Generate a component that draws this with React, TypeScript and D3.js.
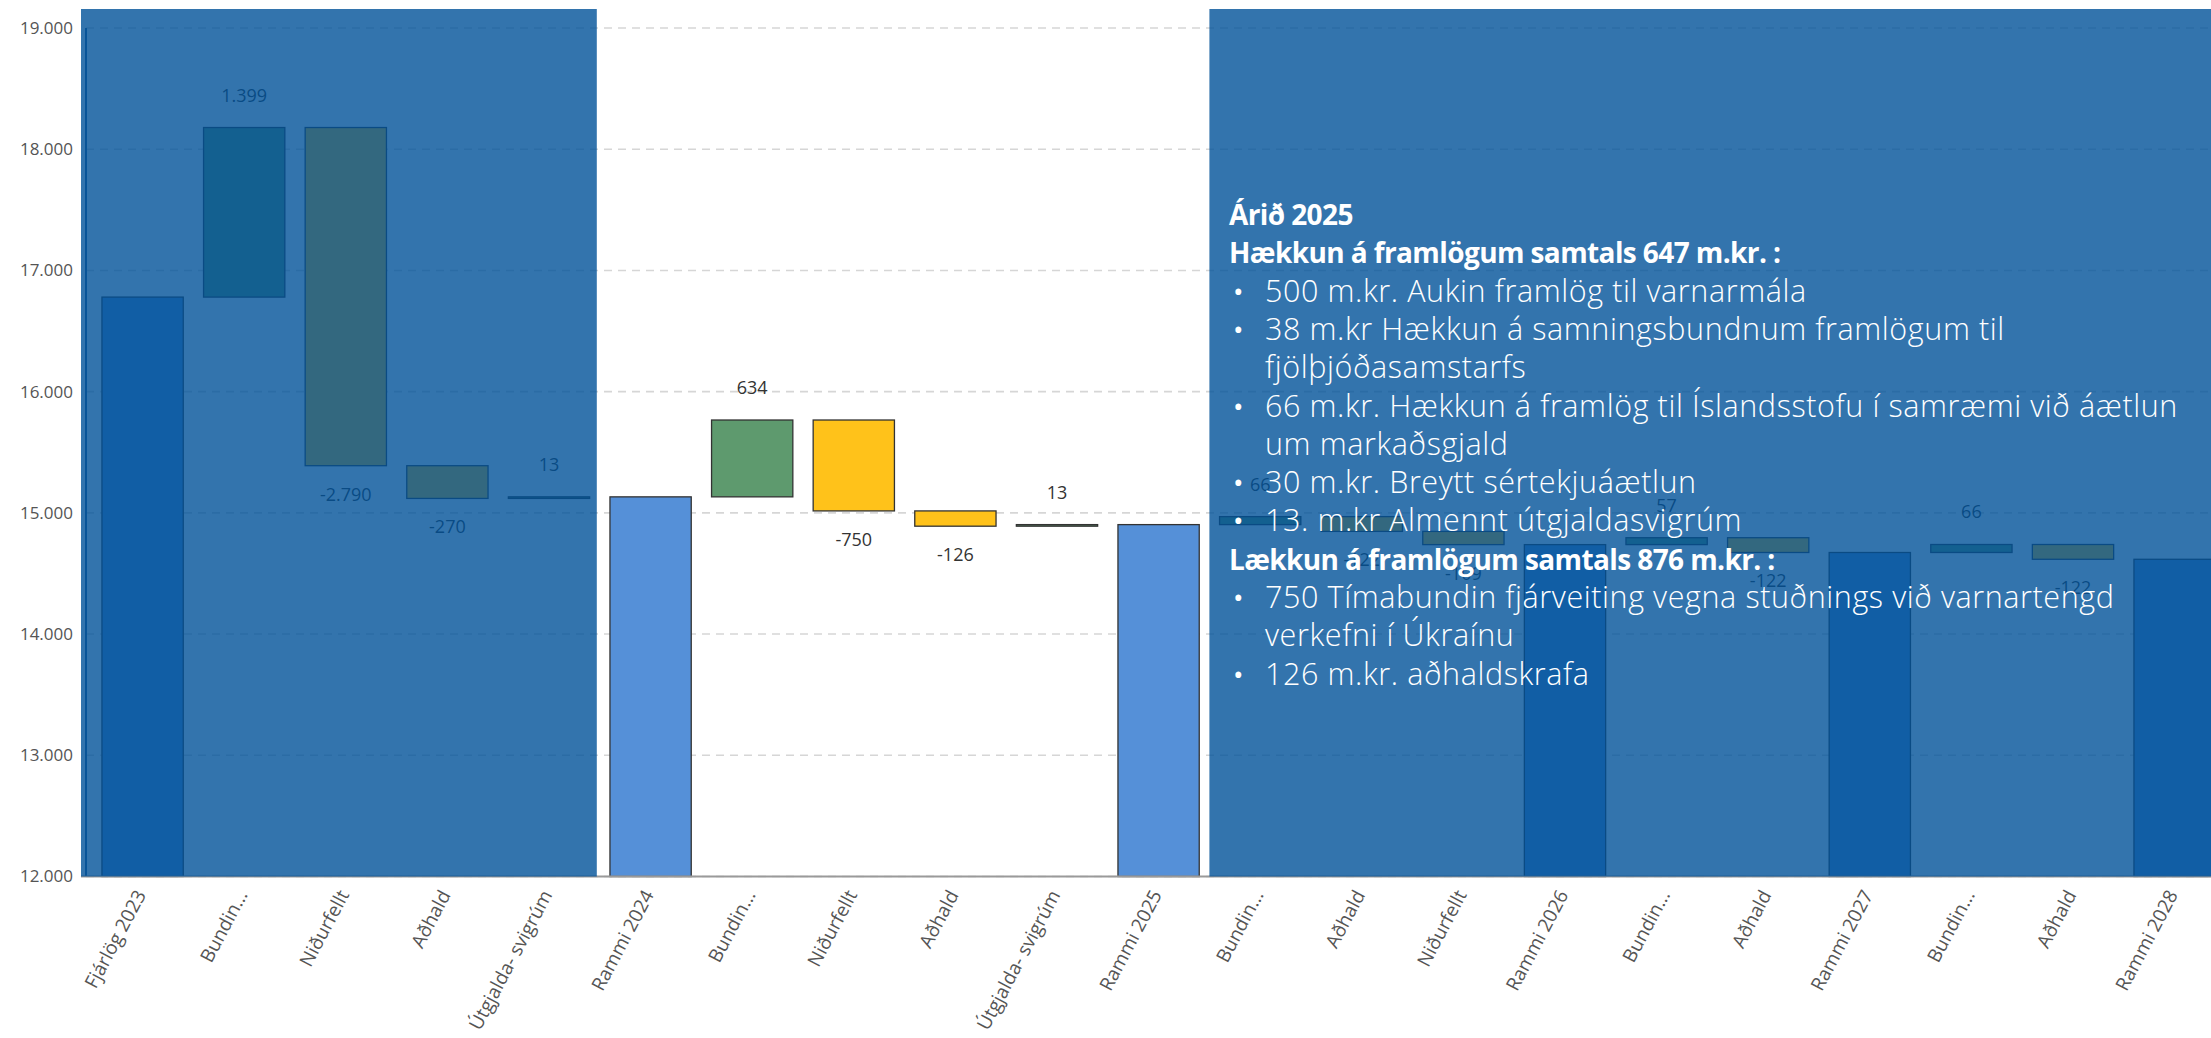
import React from "react";
import * as d3 from "d3";

const categories = [
  "Fjárlög 2023", "Bundin...", "Niðurfellt", "Aðhald", "Útgjalda- svigrúm",
  "Rammi 2024", "Bundin...", "Niðurfellt", "Aðhald", "Útgjalda- svigrúm",
  "Rammi 2025", "Bundin...", "Aðhald", "Niðurfellt", "Rammi 2026",
  "Bundin...", "Aðhald", "Rammi 2027", "Bundin...", "Aðhald", "Rammi 2028",
];
const isTotal = [
  true, false, false, false, false,
  true, false, false, false, false,
  true, false, false, false, true,
  false, false, true, false, false, true,
];
const values = [
  16780, 1399, -2790, -270, 13,
  15132, 634, -750, -126, 13,
  14903, 66, -122, -109, 14738,
  57, -122, 14673, 66, -122, 14617,
];
const yTicks = [12000, 13000, 14000, 15000, 16000, 17000, 18000, 19000];

const noteLines = [
  { text: "Árið 2025", bold: true, bullet: false, indent: false },
  { text: "Hækkun á framlögum samtals 647 m.kr. :", bold: true, bullet: false, indent: false },
  { text: "500 m.kr. Aukin framlög til varnarmála", bold: false, bullet: true, indent: true },
  { text: "38 m.kr Hækkun á samningsbundnum framlögum til", bold: false, bullet: true, indent: true },
  { text: "fjölþjóðasamstarfs", bold: false, bullet: false, indent: true },
  { text: "66 m.kr. Hækkun á framlög til Íslandsstofu í samræmi við áætlun", bold: false, bullet: true, indent: true },
  { text: "um markaðsgjald", bold: false, bullet: false, indent: true },
  { text: "30 m.kr. Breytt sértekjuáætlun", bold: false, bullet: true, indent: true },
  { text: "13. m.kr Almennt útgjaldasvigrúm", bold: false, bullet: true, indent: true },
  { text: "Lækkun á framlögum samtals 876 m.kr. :", bold: true, bullet: false, indent: false },
  { text: "750 Tímabundin fjárveiting vegna stuðnings við varnartengd", bold: false, bullet: true, indent: true },
  { text: "verkefni í Úkraínu", bold: false, bullet: false, indent: true },
  { text: "126 m.kr. aðhaldskrafa", bold: false, bullet: true, indent: true },
];

const W = 2211;
const H = 1038;
const BASE = 12000;

const locale = d3.formatLocale({ decimal: ",", thousands: ".", grouping: [3], currency: ["", " kr."], minus: "-" });
const fmt = locale.format(",d");

const COLOR_TOTAL = "#5590D8";
const COLOR_POS = "#5E9A6E";
const COLOR_NEG = "#FFC21A";
const OVERLAY = "rgba(0,81,152,0.8)";
const FONT = "'Open Sans', 'DejaVu Sans', sans-serif";

export default function App() {
  const idx = categories.map((_, i) => String(i));
  const x = d3.scaleBand<string>().domain(idx).range([91.8, 2225.4]).paddingInner(0.2).paddingOuter(0.1);
  const y = d3.scaleLinear().domain([12000, 19000]).range([876.5, 28]);

  let running = 0;
  const bars = values.map((v, i) => {
    if (isTotal[i]) {
      running = v;
      return { i, lo: BASE, hi: v, v, kind: "total" };
    }
    const start = running;
    running = start + v;
    return { i, lo: Math.min(start, running), hi: Math.max(start, running), v, kind: v >= 0 ? "pos" : "neg" };
  });

  const bw = x.bandwidth();
  const step = x.step();
  const xl = x("0")! - 21;
  const leftOverlayEnd = x("4")! + bw + (step - bw) / 2 - 3;
  const rightOverlayStart = x("10")! + bw + (step - bw) / 2;
  const axisY = y(BASE);
  const topY = 9;

  const lineH = 38.3;
  const textTop = 225;
  const textX = 1229;

  return (
    <svg width={W} height={H} style={{ position: "absolute", left: 0, top: 0, background: "#fff" }} fontFamily={FONT}>
      {/* gridlines */}
      {yTicks.map((t) => (
        <line key={"g" + t} x1={86} x2={W} y1={y(t)} y2={y(t)} stroke="#d6d6d6" strokeWidth={1.6} strokeDasharray="8,6" />
      ))}
      {/* y tick labels */}
      {yTicks.map((t) => (
        <text key={"t" + t} x={73} y={y(t)} dy="0.35em" textAnchor="end" fontSize={17} fill="#555">
          {fmt(t)}
        </text>
      ))}
      {/* y axis line */}
      <line x1={86} x2={86} y1={y(19000)} y2={axisY} stroke="#2a5f98" strokeWidth={2} />
      {/* bars */}
      {bars.map((b) => {
        const x0 = x(String(b.i))!;
        const y0 = y(b.hi);
        const h = Math.max(y(b.lo) - y(b.hi), 1.5);
        const fill = b.kind === "total" ? COLOR_TOTAL : b.kind === "pos" ? COLOR_POS : COLOR_NEG;
        return (
          <rect key={"b" + b.i} x={x0} y={y0} width={bw} height={h} fill={fill} stroke="#333" strokeWidth={1.3} />
        );
      })}
      {/* data labels for deltas */}
      {bars.filter((b) => b.kind !== "total").map((b) => {
        const cx = x(String(b.i))! + bw / 2;
        const ly = b.v >= 0 ? y(b.hi) - 26 : y(b.lo) + 35;
        return (
          <text key={"l" + b.i} x={cx} y={ly} textAnchor="middle" fontSize={18} fill="#333">
            {fmt(b.v)}
          </text>
        );
      })}
      {/* x axis line */}
      <line x1={xl} x2={W} y1={axisY} y2={axisY} stroke="#9a9a9a" strokeWidth={2} />
      {/* x labels */}
      {categories.map((c, i) => {
        const cx = x(String(i))! + bw / 2;
        return (
          <text key={"x" + i} transform={`translate(${cx - 2},${axisY + 15}) rotate(-62)`} textAnchor="end" dy="0.35em"
            fontSize={19} fill="#555">
            {c}
          </text>
        );
      })}
      {/* overlays */}
      <rect x={81} y={topY} width={leftOverlayEnd - 81} height={axisY - topY} fill={OVERLAY} />
      <rect x={rightOverlayStart} y={topY} width={W - rightOverlayStart} height={axisY - topY} fill={OVERLAY} />
      {/* overlay note text */}
      {noteLines.map((l, i) => {
        const by = textTop + i * lineH;
        return (
          <g key={"n" + i}>
            {l.bullet && (
              <text x={textX + 4} y={by} fontSize={28} fill="#fff" fontWeight={400}>•</text>
            )}
            <text x={l.indent ? textX + 36 : textX} y={by} fontSize={l.bold ? 28 : 30.5} fill="#fff"
              fontWeight={l.bold ? 700 : 300} letterSpacing={l.bold ? -0.6 : 0.6}>
              {l.text}
            </text>
          </g>
        );
      })}
    </svg>
  );
}
